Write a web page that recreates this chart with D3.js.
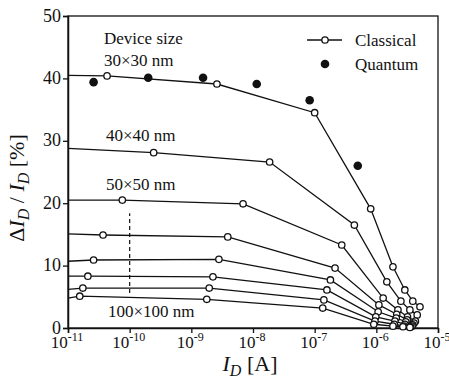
<!DOCTYPE html>
<html>
<head>
<meta charset="utf-8">
<script src="https://cdn.jsdelivr.net/npm/d3@7"></script>
</head>
<body style="margin:0;background:#fff">
<svg id="chart" width="449" height="381"></svg>
<script>
// x = drain current I_D [A], y = delta I_D / I_D [%]
const SIZE_LABELS = ["30×30", "40×40", "50×50", "", "", "", "", "100×100"];
// y value where each classical line leaves the left axis
const START_Y = [40.5, 28.8, 20.5, 15.1, 10.7, 8.3, 6.2, 4.8];
const CLASSICAL_X = [
    [4.3e-11, 2.6e-9, 1.0e-7, 8.1e-7, 1.86e-6, 2.9e-6, 3.9e-6, 5.1e-6],
    [2.45e-10, 1.86e-8, 4.4e-7, 1.48e-6, 2.5e-6, 3.5e-6, 4.6e-6],
    [7.6e-11, 6.9e-9, 2.75e-7, 1.29e-6, 2.24e-6, 3.2e-6, 4.3e-6],
    [3.7e-11, 3.9e-9, 2.14e-7, 1.1e-6, 2.14e-6, 3.16e-6, 4.1e-6],
    [2.6e-11, 2.8e-9, 1.8e-7, 1.07e-6, 2.1e-6, 3.0e-6, 3.9e-6],
    [2.1e-11, 2.24e-9, 1.58e-7, 9.8e-7, 2.0e-6, 2.9e-6, 3.8e-6],
    [1.74e-11, 1.95e-9, 1.41e-7, 9.5e-7, 1.95e-6, 2.8e-6, 3.6e-6],
    [1.55e-11, 1.78e-9, 1.35e-7, 9.1e-7, 1.86e-6, 2.7e-6, 3.5e-6]
];
const CLASSICAL_Y = [
    [40.4, 39.1, 34.5, 19.1, 9.8, 6.1, 4.3, 3.4],
    [28.1, 26.6, 16.5, 7.4, 4.3, 2.9, 2.1],
    [20.5, 19.9, 13.3, 4.8, 2.9, 1.8, 1.1],
    [14.9, 14.6, 9.6, 3.7, 2.2, 1.3, 0.8],
    [10.9, 11.0, 7.7, 2.6, 1.6, 1.0, 0.5],
    [8.3, 8.2, 6.1, 1.8, 1.1, 0.6, 0.3],
    [6.4, 6.4, 4.5, 1.1, 0.6, 0.3, 0.2],
    [5.1, 4.6, 3.2, 0.6, 0.3, 0.2, 0.1]
];
const QUANTUM_X = [2.6e-11, 2.0e-10, 1.55e-9, 1.15e-8, 8.3e-8, 5.0e-7];
const QUANTUM_Y = [39.4, 40.1, 40.1, 39.1, 36.5, 26.0];
const DASH_X = 1e-10;
const DASH_Y = [5.6, 18.4];
const X_TICKS = [1e-11, 1e-10, 1e-9, 1e-8, 1e-7, 1e-6, 1e-5];
const Y_TICKS = [0, 10, 20, 30, 40, 50];

const SVG_WIDTH = 449;
const SVG_HEIGHT = 381;
const MARGIN = {top: 16, right: 11, bottom: 53, left: 68};
const FONT = "'Liberation Serif'";
const INK = "#111";
const OPEN_RADIUS = 3.2;
const FILLED_RADIUS = 4.3;
const TICK_SIZE = 5;

var svg = d3.select("#chart");

function addText(parent, x, y, size) {
    return parent.append("text")
        .attr("x", x)
        .attr("y", y)
        .attr("font-family", FONT)
        .attr("font-size", size)
        .attr("fill", INK);
}

var xScale = d3.scaleLog()
    .domain([1e-11, 1e-5])
    .range([MARGIN.left, SVG_WIDTH - MARGIN.right]);
var yScale = d3.scaleLinear()
    .domain([0, 50])
    .range([SVG_HEIGHT - MARGIN.bottom, MARGIN.top]);

// frame
svg.append("rect")
    .attr("x", MARGIN.left)
    .attr("y", MARGIN.top)
    .attr("width", xScale.range()[1] - MARGIN.left)
    .attr("height", yScale.range()[0] - MARGIN.top)
    .attr("fill", "none")
    .attr("stroke", INK)
    .attr("stroke-width", 1.3);

var xAxis = svg.append("g")
    .attr("transform", "translate(0," + yScale(0) + ")")
    .call(d3.axisBottom(xScale).tickValues(X_TICKS).tickSize(TICK_SIZE).tickFormat(""));
var yAxis = svg.append("g")
    .attr("transform", "translate(" + MARGIN.left + ",0)")
    .call(d3.axisLeft(yScale).tickValues(Y_TICKS).tickSize(TICK_SIZE).tickFormat(""));
[xAxis, yAxis].forEach(function(axis) {
    axis.select(".domain").attr("stroke", INK).attr("stroke-width", 1.5);
    axis.selectAll(".tick line").attr("stroke", INK).attr("stroke-width", 1.3);
});

// tick labels
Y_TICKS.forEach(function(v) {
    addText(svg, MARGIN.left - TICK_SIZE - 2, yScale(v) + 5.5, 18)
        .attr("text-anchor", "end")
        .text(v);
});
X_TICKS.forEach(function(v) {
    var label = addText(svg, xScale(v) - 1, yScale(0) + 20, 17)
        .attr("text-anchor", "middle");
    label.append("tspan").text("10");
    label.append("tspan")
        .attr("dy", -7)
        .attr("font-size", 12)
        .text(Math.round(Math.log10(v)));
});

// dashed marker at 1e-10
svg.append("line")
    .attr("x1", xScale(DASH_X))
    .attr("x2", xScale(DASH_X))
    .attr("y1", yScale(DASH_Y[0]))
    .attr("y2", yScale(DASH_Y[1]))
    .attr("stroke", INK)
    .attr("stroke-width", 1.2)
    .attr("stroke-dasharray", "4,3");

// classical curves
var line = d3.line()
    .x(function(d) { return xScale(d[0]); })
    .y(function(d) { return yScale(d[1]); });
var curveGroup = svg.append("g");
for (var i = 0; i < CLASSICAL_X.length; i++) {
    var pts = CLASSICAL_X[i].map(function(x, j) {
        return [x, CLASSICAL_Y[i][j]];
    });
    curveGroup.append("path")
        .attr("d", line([[1e-11, START_Y[i]]].concat(pts)))
        .attr("fill", "none")
        .attr("stroke", INK)
        .attr("stroke-width", 1.3);
    curveGroup.selectAll(null)
        .data(pts)
        .enter()
        .append("circle")
        .attr("cx", function(d) { return xScale(d[0]); })
        .attr("cy", function(d) { return yScale(d[1]); })
        .attr("r", OPEN_RADIUS)
        .attr("fill", "#fff")
        .attr("stroke", INK)
        .attr("stroke-width", 1.3);
}

// quantum points
svg.append("g")
    .selectAll("circle")
    .data(QUANTUM_X)
    .enter()
    .append("circle")
    .attr("cx", function(d) { return xScale(d); })
    .attr("cy", function(d, i) { return yScale(QUANTUM_Y[i]); })
    .attr("r", FILLED_RADIUS)
    .attr("fill", INK);

// size annotations
addText(svg, 104, 44, 17).text("Device size");
var sizeLabelPos = [[104, 66], [106, 141], [106, 190], null, null, null, null, [108, 317]];
SIZE_LABELS.forEach(function(s, i) {
    if (s === "") {
        return;
    }
    addText(svg, sizeLabelPos[i][0], sizeLabelPos[i][1], 17).text(s + " nm");
});

// legend
var legend = svg.append("g");
legend.append("line")
    .attr("x1", 307).attr("x2", 342)
    .attr("y1", 40).attr("y2", 40)
    .attr("stroke", INK)
    .attr("stroke-width", 1.3);
legend.append("circle")
    .attr("cx", 325).attr("cy", 40)
    .attr("r", OPEN_RADIUS)
    .attr("fill", "#fff")
    .attr("stroke", INK)
    .attr("stroke-width", 1.3);
addText(legend, 355, 46, 17).text("Classical");
legend.append("circle")
    .attr("cx", 325).attr("cy", 64)
    .attr("r", FILLED_RADIUS)
    .attr("fill", INK);
addText(legend, 355, 70, 17).text("Quantum");

// axis titles
var xTitle = addText(svg, 250, 371, 22)
    .attr("text-anchor", "middle");
xTitle.append("tspan").attr("font-style", "italic").text("I");
xTitle.append("tspan").attr("font-style", "italic").attr("font-size", 16).attr("dy", 5).text("D");
xTitle.append("tspan").attr("dy", -5).text(" [A]");

var yTitle = addText(svg, 0, 0, 22)
    .attr("transform", "translate(24,188) rotate(-90)")
    .attr("text-anchor", "middle");
yTitle.append("tspan").text("Δ");
yTitle.append("tspan").attr("font-style", "italic").text("I");
yTitle.append("tspan").attr("font-style", "italic").attr("font-size", 16).attr("dy", 5).text("D");
yTitle.append("tspan").attr("dy", -5).text(" / ");
yTitle.append("tspan").attr("font-style", "italic").text("I");
yTitle.append("tspan").attr("font-style", "italic").attr("font-size", 16).attr("dy", 5).text("D");
yTitle.append("tspan").attr("dy", -5).text(" [%]");
</script>
</body>
</html>
